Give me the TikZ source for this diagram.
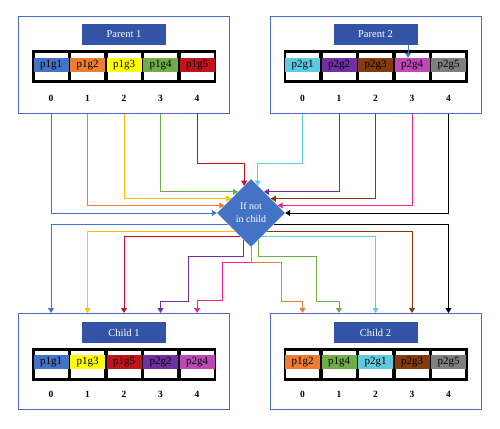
\documentclass[tikz,border=0pt]{standalone}
\usepackage{fontspec}
\setmainfont{Liberation Serif}
\usetikzlibrary{shapes.geometric,arrows.meta,calc}

\definecolor{boxblue}{HTML}{4A6CC4}
\definecolor{titleblue}{HTML}{3353A6}
\definecolor{gblue}{HTML}{4472C4}
\definecolor{gorange}{HTML}{ED7D31}
\definecolor{gyellow}{HTML}{FFFF00}
\definecolor{lyellow}{HTML}{FFC000}
\definecolor{ggreen}{HTML}{70AD47}
\definecolor{gred}{HTML}{C0141C}
\definecolor{gcyan}{HTML}{5FCBE0}
\definecolor{gpurple}{HTML}{7030A0}
\definecolor{gbrown}{HTML}{843C0C}
\definecolor{gmagenta}{HTML}{BC48B4}
\definecolor{lpink}{HTML}{FF1F8F}
\definecolor{ggray}{HTML}{7F7F7F}

\begin{document}
\begin{tikzpicture}[x=1pt,y=-1pt,
  frame/.style={draw=boxblue,line width=1pt,minimum width=211pt,minimum height=96pt},
  title/.style={fill=titleblue,text=white,minimum width=84pt,minimum height=21pt,inner sep=0pt,font=\fontsize{10.5}{12}\selectfont},
  bar/.style={fill=black,minimum width=184pt,minimum height=33pt,inner sep=0pt},
  cell/.style={fill=white,minimum width=33pt,minimum height=27pt,inner sep=0pt},
  gene/.style={minimum width=35pt,minimum height=14pt,inner sep=0pt,font=\fontsize{11}{12}\selectfont},
  idx/.style={font=\fontsize{9.5}{12}\selectfont\bfseries},
  link/.style={line width=0.9pt,-{Triangle[width=6pt,length=5pt]}},
]
\useasboundingbox (0,0) rectangle (500,428);

% parent 1
\node[frame] (p1) at (123.5,65) {}; \node[title] (t1) at (124,34.5) {Parent 1};
\node[bar] (r1) at (124,66.5) {};
\node[cell] (w11) at (51,66.5) {}; \node[cell] (w12) at (87.5,66.5) {}; \node[cell] (w13) at (124,66.5) {}; \node[cell] (w14) at (160.5,66.5) {}; \node[cell] (w15) at (197,66.5) {};
\node[gene,fill=gblue] (b11) at (51,65) {p1g1}; \node[gene,fill=gorange] (b12) at (87.5,65) {p1g2}; \node[gene,fill=gyellow] (b13) at (124,65) {p1g3};
\node[gene,fill=ggreen] (b14) at (160.5,65) {p1g4}; \node[gene,fill=gred] (b15) at (197,65) {p1g5};
\node[idx] (n10) at (51,98) {0}; \node[idx] (n11) at (87.5,98) {1}; \node[idx] (n12) at (124,98) {2}; \node[idx] (n13) at (160.5,98) {3}; \node[idx] (n14) at (197,98) {4};

% parent 2
\node[frame] (p2) at (375.5,65) {}; \node[title] (t2) at (375.5,34.5) {Parent 2};
\node[bar] (r2) at (375.5,66.5) {};
\node[cell] (w21) at (302.5,66.5) {}; \node[cell] (w22) at (339,66.5) {}; \node[cell] (w23) at (375.5,66.5) {}; \node[cell] (w24) at (412,66.5) {}; \node[cell] (w25) at (448.5,66.5) {};
\node[gene,fill=gcyan] (b21) at (302.5,65) {p2g1}; \node[gene,fill=gpurple] (b22) at (339,65) {p2g2}; \node[gene,fill=gbrown] (b23) at (375.5,65) {p2g3};
\node[gene,fill=gmagenta] (b24) at (412,65) {p2g4}; \node[gene,fill=ggray] (b25) at (448.5,65) {p2g5};
\node[idx] (n20) at (302.5,98) {0}; \node[idx] (n21) at (339,98) {1}; \node[idx] (n22) at (375.5,98) {2}; \node[idx] (n23) at (412,98) {3}; \node[idx] (n24) at (448.5,98) {4};
\draw[link,gblue] ($(b24.north |- t2.south)+(-4,0)$) -- ($(b24.north)+(-4,0)$);

% child 1
\node[frame] (c1) at (123.5,361.5) {}; \node[title] (s1) at (124,332.5) {Child 1};
\node[bar] (q1) at (124,364) {};
\node[cell] (v11) at (51,364) {}; \node[cell] (v12) at (87.5,364) {}; \node[cell] (v13) at (124,364) {}; \node[cell] (v14) at (160.5,364) {}; \node[cell] (v15) at (197,364) {};
\node[gene,fill=gblue] (k11) at (51,362) {p1g1}; \node[gene,fill=gyellow] (k12) at (87.5,362) {p1g3}; \node[gene,fill=gred] (k13) at (124,362) {p1g5};
\node[gene,fill=gpurple] (k14) at (160.5,362) {p2g2}; \node[gene,fill=gmagenta] (k15) at (197,362) {p2g4};
\node[idx] (m10) at (51,394) {0}; \node[idx] (m11) at (87.5,394) {1}; \node[idx] (m12) at (124,394) {2}; \node[idx] (m13) at (160.5,394) {3}; \node[idx] (m14) at (197,394) {4};

% child 2
\node[frame] (c2) at (376,361.5) {}; \node[title] (s2) at (375.5,332.5) {Child 2};
\node[bar] (q2) at (375.5,364) {};
\node[cell] (v21) at (302.5,364) {}; \node[cell] (v22) at (339,364) {}; \node[cell] (v23) at (375.5,364) {}; \node[cell] (v24) at (412,364) {}; \node[cell] (v25) at (448.5,364) {};
\node[gene,fill=gorange] (k21) at (302.5,362) {p1g2}; \node[gene,fill=ggreen] (k22) at (339,362) {p1g4}; \node[gene,fill=gcyan] (k23) at (375.5,362) {p2g1};
\node[gene,fill=gbrown] (k24) at (412,362) {p2g3}; \node[gene,fill=ggray] (k25) at (448.5,362) {p2g5};
\node[idx] (m20) at (302.5,394) {0}; \node[idx] (m21) at (339,394) {1}; \node[idx] (m22) at (375.5,394) {2}; \node[idx] (m23) at (412,394) {3}; \node[idx] (m24) at (448.5,394) {4};

% test
\node[diamond,fill=gblue,text=white,align=center,minimum width=68pt,minimum height=68pt,inner sep=0pt,font=\fontsize{10}{13}\selectfont] (d) at (251,213) {If not\\in child};

\coordinate (i12) at ($(d.west)!0.22!(d.north)$); \coordinate (i13) at ($(d.west)!0.42!(d.north)$);
\coordinate (i14) at ($(d.west)!0.62!(d.north)$); \coordinate (i15) at ($(d.west)!0.8!(d.north)$);
\coordinate (i21) at ($(d.east)!0.8!(d.north)$); \coordinate (i22) at ($(d.east)!0.62!(d.north)$);
\coordinate (i23) at ($(d.east)!0.42!(d.north)$); \coordinate (i24) at ($(d.east)!0.22!(d.north)$);
\coordinate (o11) at ($(d.west)!0.33!(d.south)$); \coordinate (o12) at ($(d.west)!0.53!(d.south)$);
\coordinate (o13) at ($(d.west)!0.68!(d.south)$); \coordinate (o14) at ($(d.west)!0.79!(d.south)$);
\coordinate (o25) at ($(d.east)!0.33!(d.south)$); \coordinate (o24) at ($(d.east)!0.53!(d.south)$);
\coordinate (o23) at ($(d.east)!0.68!(d.south)$); \coordinate (o22) at ($(d.east)!0.79!(d.south)$);

% into the test
\draw[link,gblue] (b11 |- p1.south) |- (d.west);
\draw[link,gorange] (b12 |- p1.south) |- (i12);
\draw[link,lyellow] (b13 |- p1.south) |- (i13);
\draw[link,ggreen] (b14 |- p1.south) |- (i14);
\draw[link,gred] (b15 |- p1.south) |- ($(i15)+(0,-22)$) -- (i15);
\draw[link,gcyan] (b21 |- p2.south) |- ($(i21)+(0,-22)$) -- (i21);
\draw[link,gpurple] (b22 |- p2.south) |- (i22);
\draw[link,gbrown] (b23 |- p2.south) |- (i23);
\draw[link,lpink] (b24 |- p2.south) |- (i24);
\draw[link,black] (b25 |- p2.south) |- (d.east);

% out to the children
\draw[link,gblue] (o11) -| (k11 |- c1.north);
\draw[link,lyellow] (o12) -| (k12 |- c1.north);
\draw[link,gred] (o13) -| (k13 |- c1.north);
\draw[link,gpurple] (o14) -- ++(0,16) -| ++(-55,45) -| (k14 |- c1.north);
\draw[link,lpink] (d.south) -- ++(0,15) -| ++(-29,38) -| (k15 |- c1.north);
\draw[link,black] (o25) -| (k25 |- c2.north);
\draw[link,gbrown] (o24) -| (k24 |- c2.north);
\draw[link,gcyan] (o23) -| (k23 |- c2.north);
\draw[link,ggreen] (o22) -- ++(0,16) -| ++(58,45) -| (k22 |- c2.north);
\draw[link,gorange] (d.south) -- ++(0,15) -| ++(30,39) -| (k21 |- c2.north);

\end{tikzpicture}
\end{document}
